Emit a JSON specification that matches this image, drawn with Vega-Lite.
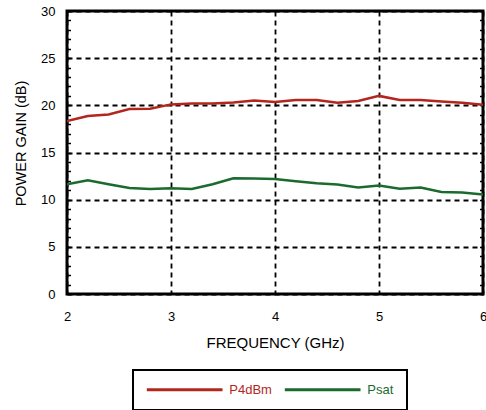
{
  "$schema": "https://vega.github.io/schema/vega-lite/v6.json",
  "width": 416,
  "height": 283,
  "autosize": {"type": "none"},
  "padding": {"left": 67, "top": 11, "right": 3, "bottom": 116},
  "config": {
    "view": {"stroke": "black", "strokeWidth": 3},
    "font": "Liberation Sans",
    "axis": {"labelFont": "Liberation Sans", "titleFont": "Liberation Sans", "labelColor": "black", "titleColor": "black", "titleFontWeight": "normal"}
  },
  "data": {"values": [
    {"f": 2.0, "series": "P4dBm", "gain": 18.34},
    {"f": 2.2, "series": "P4dBm", "gain": 18.86},
    {"f": 2.4, "series": "P4dBm", "gain": 19.04},
    {"f": 2.6, "series": "P4dBm", "gain": 19.6},
    {"f": 2.8, "series": "P4dBm", "gain": 19.64},
    {"f": 3.0, "series": "P4dBm", "gain": 20.1},
    {"f": 3.2, "series": "P4dBm", "gain": 20.2},
    {"f": 3.4, "series": "P4dBm", "gain": 20.2},
    {"f": 3.6, "series": "P4dBm", "gain": 20.3},
    {"f": 3.8, "series": "P4dBm", "gain": 20.5},
    {"f": 4.0, "series": "P4dBm", "gain": 20.35},
    {"f": 4.2, "series": "P4dBm", "gain": 20.56},
    {"f": 4.4, "series": "P4dBm", "gain": 20.56},
    {"f": 4.6, "series": "P4dBm", "gain": 20.28},
    {"f": 4.8, "series": "P4dBm", "gain": 20.46},
    {"f": 5.0, "series": "P4dBm", "gain": 21.0},
    {"f": 5.2, "series": "P4dBm", "gain": 20.56},
    {"f": 5.4, "series": "P4dBm", "gain": 20.56},
    {"f": 5.6, "series": "P4dBm", "gain": 20.4},
    {"f": 5.8, "series": "P4dBm", "gain": 20.28},
    {"f": 6.0, "series": "P4dBm", "gain": 20.07},
    {"f": 2.0, "series": "Psat", "gain": 11.63},
    {"f": 2.2, "series": "Psat", "gain": 12.05},
    {"f": 2.4, "series": "Psat", "gain": 11.63},
    {"f": 2.6, "series": "Psat", "gain": 11.24},
    {"f": 2.8, "series": "Psat", "gain": 11.13},
    {"f": 3.0, "series": "Psat", "gain": 11.2},
    {"f": 3.2, "series": "Psat", "gain": 11.13},
    {"f": 3.4, "series": "Psat", "gain": 11.63},
    {"f": 3.6, "series": "Psat", "gain": 12.27},
    {"f": 3.8, "series": "Psat", "gain": 12.24},
    {"f": 4.0, "series": "Psat", "gain": 12.2},
    {"f": 4.2, "series": "Psat", "gain": 11.95},
    {"f": 4.4, "series": "Psat", "gain": 11.73},
    {"f": 4.6, "series": "Psat", "gain": 11.6},
    {"f": 4.8, "series": "Psat", "gain": 11.28},
    {"f": 5.0, "series": "Psat", "gain": 11.49},
    {"f": 5.2, "series": "Psat", "gain": 11.17},
    {"f": 5.4, "series": "Psat", "gain": 11.28},
    {"f": 5.6, "series": "Psat", "gain": 10.81},
    {"f": 5.8, "series": "Psat", "gain": 10.77},
    {"f": 6.0, "series": "Psat", "gain": 10.56}
  ]},
  "resolve": {"axis": {"y": "independent"}},
  "layer": [
    {
      "mark": {"type": "line", "strokeWidth": 2.5, "clip": true},
      "encoding": {
        "x": {"field": "f", "type": "quantitative", "scale": {"domain": [2, 6], "nice": false},
          "axis": {"values": [2, 3, 4, 5, 6], "format": "d", "labelFlush": false, "title": "FREQUENCY (GHz)", "ticks": false, "domain": false,
            "labelFontSize": 13, "labelPadding": 16, "titleFontSize": 15,
            "titleY": 53, "titleBaseline": "alphabetic",
            "grid": true, "gridColor": "black", "gridDash": [5, 4], "gridWidth": 1.8, "gridOpacity": 1}},
        "y": {"field": "gain", "type": "quantitative", "scale": {"domain": [0, 30], "nice": false},
          "axis": {"orient": "left", "values": [0, 5, 10, 15, 20, 25, 30], "format": "d", "title": "POWER GAIN (dB)", "ticks": false, "domain": false,
            "labelFontSize": 13, "labelPadding": 12, "titleFontSize": 14.5,
            "titleX": -42, "titleY": 132, "titleBaseline": "alphabetic", "titleAlign": "center", "titleAngle": -90,
            "grid": true, "gridColor": "black", "gridDash": [5, 4], "gridWidth": 1.8, "gridOpacity": 1}},
        "color": {"field": "series", "type": "nominal",
          "scale": {"domain": ["P4dBm", "Psat"], "range": ["#B3261E", "#1B6B2F"]},
          "legend": {"orient": "none", "legendX": 66, "legendY": 359, "direction": "horizontal", "title": null,
            "symbolType": "M-1.5,0H18.5", "symbolSize": 57.3, "symbolStrokeWidth": 3,
            "labelFont": "Liberation Sans", "labelFontSize": 13, "labelOffset": 70.3, "columnPadding": 6,
            "padding": 13, "strokeColor": "black",
            "encode": {
              "legend": {"update": {"strokeWidth": {"value": 2}}},
              "labels": {"update": {"fill": {"scale": "color", "field": "value"}}}}}}
      }
    },
    {
      "mark": {"type": "line", "strokeOpacity": 0},
      "encoding": {
        "x": {"field": "f", "type": "quantitative"},
        "y": {"field": "gain", "type": "quantitative",
          "axis": {"orient": "left", "values": [0,1,2,3,4,5,6,7,8,9,10,11,12,13,14,15,16,17,18,19,20,21,22,23,24,25,26,27,28,29,30],
            "labels": false, "title": null, "domain": false, "grid": false, "ticks": true, "tickSize": -3.5, "tickWidth": 1.5, "tickColor": "black"}}
      }
    },
    {
      "mark": {"type": "line", "strokeOpacity": 0},
      "encoding": {
        "x": {"field": "f", "type": "quantitative"},
        "y": {"field": "gain", "type": "quantitative",
          "axis": {"orient": "right", "values": [0,1,2,3,4,5,6,7,8,9,10,11,12,13,14,15,16,17,18,19,20,21,22,23,24,25,26,27,28,29,30],
            "labels": false, "title": null, "domain": false, "grid": false, "ticks": true, "tickSize": -3.5, "tickWidth": 1.5, "tickColor": "black"}}
      }
    }
  ]
}
